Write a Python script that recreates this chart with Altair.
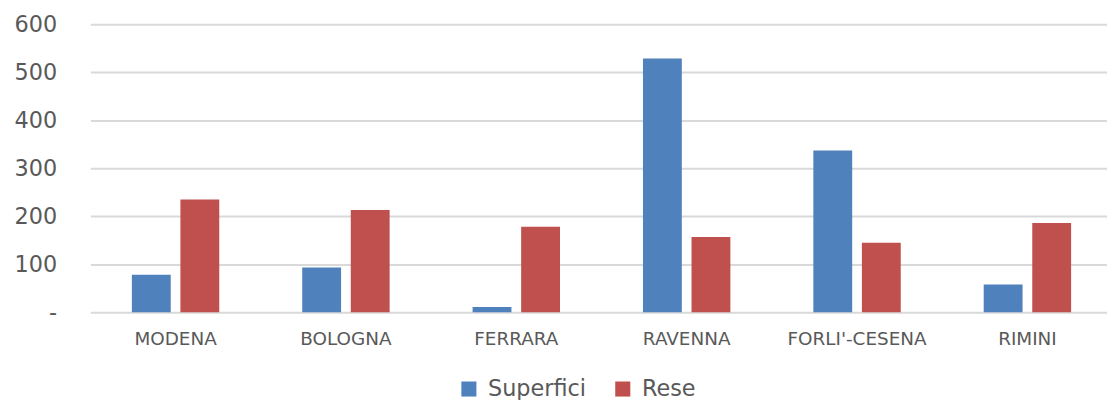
import altair as alt
import pandas as pd

provinces = ["MODENA", "BOLOGNA", "FERRARA", "RAVENNA", "FORLI'-CESENA", "RIMINI"]
superfici = [78, 93, 11, 529, 337, 58]
rese = [235, 213, 178, 157, 145, 186]
series = ["Superfici", "Rese"]
colors = ["#4F81BD", "#C0504D"]

rows = []
for i, p in enumerate(provinces):
    rows.append({"Provincia": p, "Serie": series[0], "Valore": superfici[i]})
    rows.append({"Provincia": p, "Serie": series[1], "Valore": rese[i]})
df = pd.DataFrame(rows)

FONT = "DejaVu Sans"

chart = alt.Chart(df).mark_bar().encode(
    x=alt.X("Provincia:N", sort=provinces, title=None,
            scale=alt.Scale(type="band", paddingInner=0.487, paddingOuter=0.227, align=0.536),
            axis=alt.Axis(labelAngle=0, labelFont=FONT, labelFontSize=18.5,
                          labelColor="#595959", labelPadding=18,
                          ticks=False, domain=False, grid=False)),
    xOffset=alt.XOffset("Serie:N", sort=series,
                        scale=alt.Scale(paddingInner=0.2, paddingOuter=0)),
    y=alt.Y("Valore:Q", title=None,
            scale=alt.Scale(domain=[0, 600], nice=False),
            axis=alt.Axis(values=[0, 100, 200, 300, 400, 500, 600],
                          labelExpr="datum.value == 0 ? '-' : datum.label",
                          labelFont=FONT, labelFontSize=22.5, labelColor="#595959",
                          labelPadding=34, ticks=False, domain=False,
                          grid=True, gridColor="#D9D9D9", gridWidth=2)),
    color=alt.Color("Serie:N", sort=series,
                    scale=alt.Scale(domain=series, range=colors),
                    legend=alt.Legend(title=None, orient="none", direction="horizontal",
                                      legendX=370, legendY=356,
                                      symbolType="square", symbolSize=230,
                                      symbolStrokeWidth=0,
                                      labelFont=FONT, labelFontSize=22.5,
                                      labelColor="#595959", labelOffset=8,
                                      columnPadding=25)),
).properties(
    width=1024, height=290,
    autosize=alt.AutoSizeParams(type="none"),
    padding={"left": 83, "top": 15, "right": 0, "bottom": 87},
).configure(background="white").configure_view(stroke=None, strokeWidth=0).configure_scale(bandPaddingOuter=0.227)

chart.save("out.html", embed_options={"renderer": "svg", "actions": False})
